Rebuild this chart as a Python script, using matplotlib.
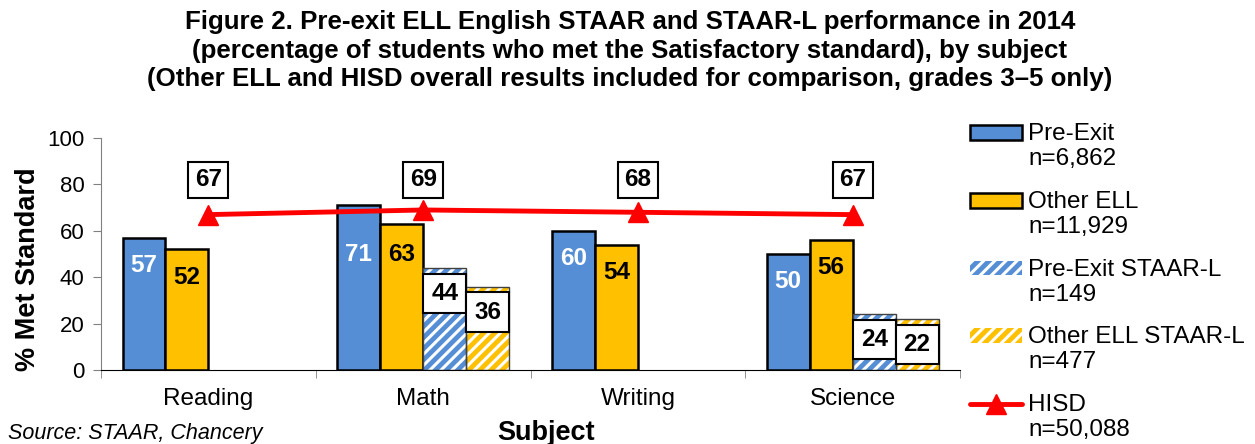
import numpy as np
import matplotlib.pyplot as plt
from matplotlib.patches import Rectangle
from matplotlib.legend_handler import HandlerPatch, HandlerLine2D

plt.rcParams['font.family'] = ['Liberation Sans', 'DejaVu Sans']
plt.rcParams['hatch.linewidth'] = 2.2

# data
subjects = ['Reading', 'Math', 'Writing', 'Science']
pre_exit = [57, 71, 60, 50]
other_ell = [52, 63, 54, 56]
pre_exit_l = [np.nan, 44, np.nan, 24]
other_ell_l = [np.nan, 36, np.nan, 22]
hisd = [67, 69, 68, 67]

labels = ['Pre-Exit\nn=6,862', 'Other ELL\nn=11,929', 'Pre-Exit STAAR-L\nn=149',
          'Other ELL STAAR-L\nn=477', 'HISD\nn=50,088']

blue = '#558ED5'
gold = '#FFC000'


class UpPatch(HandlerPatch):
    # puts the legend box next to the first line of a two-line label
    def create_artists(self, legend, orig_handle, xdescent, ydescent,
                       width, height, fontsize, trans):
        return super().create_artists(legend, orig_handle, xdescent,
                                      ydescent - 0.58 * fontsize, width,
                                      height, fontsize, trans)


class UpLine(HandlerLine2D):
    def create_artists(self, legend, orig_handle, xdescent, ydescent,
                       width, height, fontsize, trans):
        return super().create_artists(legend, orig_handle, xdescent,
                                      ydescent - 1.16 * fontsize, width,
                                      height, fontsize, trans)


fig = plt.figure(figsize=(12.55, 4.44), dpi=100)
ax = fig.add_axes([0.0805, 0.1667, 0.6845, 0.5223])

x = np.arange(len(subjects))
w = 0.2

ax.bar(x - 0.3, pre_exit, w, color=blue, edgecolor='black', linewidth=1.8)
ax.bar(x - 0.1, other_ell, w, color=gold, edgecolor='black', linewidth=1.8)
ax.bar(x + 0.1, pre_exit_l, w, color=blue, edgecolor='white', hatch='///', linewidth=0)
ax.bar(x + 0.3, other_ell_l, w, color=gold, edgecolor='white', hatch='///', linewidth=0)
ax.bar(x + 0.1, pre_exit_l, w, color='none', edgecolor='#404040', linewidth=1)
ax.bar(x + 0.3, other_ell_l, w, color='none', edgecolor='#404040', linewidth=1)

line, = ax.plot(x, hisd, color='#FF0000', linewidth=3.5, marker='^', markersize=15,
                solid_capstyle='round')

# value labels
for i in range(len(subjects)):
    ax.text(x[i] - 0.3, min(pre_exit[i] - 12, 50), str(pre_exit[i]), ha='center',
            va='center', color='white', fontsize=17.5, fontweight='bold')
    ax.text(x[i] - 0.1, min(other_ell[i] - 12, 50), str(other_ell[i]), ha='center',
            va='center', color='black', fontsize=17.5, fontweight='bold')
    for xx, v in [(x[i] + 0.1, pre_exit_l[i]), (x[i] + 0.3, other_ell_l[i])]:
        if not np.isnan(v):
            ax.text(xx, v - 11, str(int(v)), ha='center', va='center', fontsize=17.5,
                    fontweight='bold',
                    bbox=dict(boxstyle='square,pad=0.33', fc='white', ec='black', lw=1.5))
    ax.text(x[i], 82, str(hisd[i]), ha='center', va='center', fontsize=17.5,
            fontweight='bold',
            bbox=dict(boxstyle='square,pad=0.27', fc='white', ec='black', lw=1.5))

ax.set_xlim(-0.5, len(subjects) - 0.5)
ax.set_ylim(0, 100)
ax.set_yticks(range(0, 101, 20))
ax.set_xticks(x)
ax.set_xticklabels(subjects)
ax.set_xticks(np.arange(len(subjects) + 1) - 0.5, minor=True)
ax.tick_params(axis='x', which='major', length=0, labelsize=17.5, pad=13)
ax.tick_params(axis='x', which='minor', length=6, color='#808080', direction='out')
ax.tick_params(axis='y', labelsize=16, length=6, color='#808080', pad=6)
for s in ['top', 'right']:
    ax.spines[s].set_visible(False)
ax.spines['left'].set_color('#808080')
ax.spines['bottom'].set_color('black')

ax.set_ylabel('% Met Standard', fontsize=19.5, fontweight='bold')
ax.yaxis.set_label_coords(-0.07, 0.435)
ax.set_xlabel('Subject', fontsize=19.5, fontweight='bold')
ax.xaxis.set_label_coords(0.518, -0.215)

fig.suptitle('Figure 2. Pre-exit ELL English STAAR and STAAR-L performance in 2014\n'
             '(percentage of students who met the Satisfactory standard), by subject\n'
             '(Other ELL and HISD overall results included for comparison, grades 3\u20135 only)',
             x=0.502, y=0.978, fontsize=18.6, fontweight='bold', linespacing=1.25)

fig.text(0.006, 0.012, 'Source: STAAR, Chancery', fontsize=15.5, style='italic')

pe = Rectangle((0, 0), 1, 1, fc=blue, ec='black', lw=1.8)
oe = Rectangle((0, 0), 1, 1, fc=gold, ec='black', lw=1.8)
pl = Rectangle((0, 0), 1, 1, fc=blue, ec='white', hatch='///', lw=0)
ol = Rectangle((0, 0), 1, 1, fc=gold, ec='white', hatch='///', lw=0)
leg = fig.legend([pe, oe, pl, ol, line], labels, loc='upper left',
                 bbox_to_anchor=(0.763, 0.75), frameon=False, fontsize=17.5,
                 borderpad=0, handlelength=2.15, handleheight=0.55, handletextpad=0.25,
                 labelspacing=0.85,
                 handler_map={Rectangle: UpPatch(), type(line): UpLine(marker_pad=0)})
for t in leg.get_texts():
    t.set_linespacing(1.18)

fig.savefig('out.png', dpi=100)
